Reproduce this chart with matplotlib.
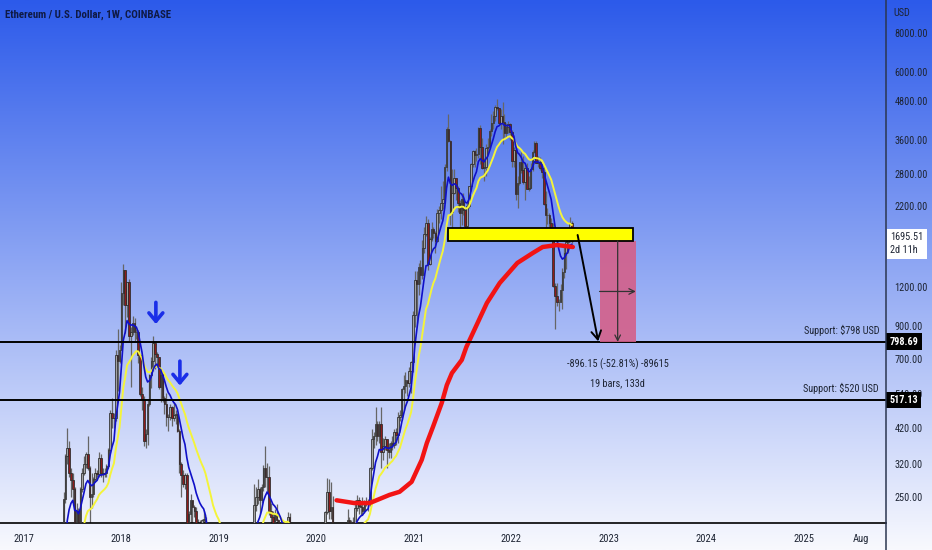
import numpy as np
import pandas as pd
import matplotlib
matplotlib.use("Agg")
import matplotlib.pyplot as plt
import matplotlib.dates as mdates
import matplotlib.transforms as mtrans
from matplotlib.lines import Line2D
from matplotlib.patches import Rectangle

plt.rcParams["font.family"] = ["Roboto Condensed", "Liberation Sans Narrow", "Liberation Sans", "DejaVu Sans"]

# weekly ETH/USD candles (Coinbase), first bar week of 2017-01-02
first_open = 8.2
close = [
    # 2017
    10.2, 9.8, 10.6, 10.7, 11.2, 11.4, 12.8, 13.2, 19.2, 28.5, 43, 43, 50,
    43, 48, 49, 79, 88, 88, 157, 180, 247, 340, 360, 300, 283,
    265, 155, 225, 200, 265, 300, 320, 345, 310, 250, 255, 285, 300,
    297, 335, 300, 297, 300, 315, 355, 470, 450, 450, 720, 690, 750,
    # 2018
    1150, 1360, 1050, 1245, 830, 860, 920, 860, 860, 720, 540, 520, 380,
    400, 500, 620, 690, 790, 730, 710, 570, 620, 525, 500, 455, 455,
    490, 450, 460, 465, 410, 320, 295, 275, 295, 195, 220, 245, 232,
    226, 195, 205, 205, 210, 212, 175, 115, 117, 92, 84, 130, 135, 155,
    # 2019
    118, 122, 116, 107, 120, 142, 137, 134, 134, 137, 135, 141, 165,
    168, 171, 158, 170, 200, 235, 250, 265, 245, 270, 310, 290, 290,
    225, 215, 205, 220, 210, 195, 190, 172, 180, 200, 215, 170, 180,
    190, 172, 180, 185, 185, 180, 150, 150, 148, 142, 127, 128, 143,
    # 2020
    146, 167, 168, 190, 223, 260, 225, 232, 200, 125, 130, 132, 145,
    158, 185, 197, 211, 187, 207, 206, 231, 245, 233, 232, 225, 240,
    240, 240, 310, 385, 395, 430, 395, 430, 350, 365, 385, 355, 350,
    375, 368, 405, 396, 455, 460, 560, 575, 600, 585, 640, 685, 975,
    # 2021
    1260, 1230, 1390, 1310, 1610, 1780, 1930, 1420, 1720, 1855, 1790, 1690, 2080,
    2140, 2240, 2310, 2950, 3900, 3580, 2100, 2420, 2710, 2510, 2250, 2080, 2320,
    2140, 1895, 2190, 2560, 3010, 3310, 3225, 3230, 3930, 3410, 2920, 2930, 3380,
    3420, 3850, 4080, 4290, 4610, 4570, 4090, 4290, 4120, 3790, 3960, 4050, 3830,
    # 2022
    3080, 3330, 2400, 2600, 3050, 2870, 2630, 2920, 2500, 2520, 2900, 3300, 3520,
    3030, 3060, 2920, 2830, 2230, 2060, 2050, 1940, 1810, 1210, 1125, 1070, 1070,
    1170, 1340, 1550, 1680, 1700, 1935, 1695.51,
]
high = [
    10.5, 10.8, 11.0, 11.2, 11.5, 11.9, 13.2, 13.8, 19.5, 30, 45, 45, 55,
    53, 50, 51, 80, 90, 93, 160, 200, 260, 345, 420, 380, 310,
    300, 270, 240, 230, 270, 310, 340, 350, 395, 315, 300, 290, 310,
    305, 350, 345, 310, 310, 320, 360, 480, 525, 470, 750, 880, 780,
    1250, 1420, 1360, 1250, 1270, 890, 970, 950, 880, 870, 730, 570, 530,
    415, 520, 625, 710, 830, 790, 740, 710, 630, 630, 530, 545, 465,
    500, 495, 510, 480, 470, 415, 325, 305, 300, 300, 225, 255, 245,
    235, 232, 212, 210, 212, 225, 215, 175, 125, 118, 95, 145, 158, 160,
    160, 132, 124, 116, 124, 147, 165, 140, 138, 140, 144, 145, 184,
    185, 180, 174, 174, 202, 275, 270, 285, 270, 275, 318, 365, 322,
    315, 240, 225, 228, 238, 212, 200, 194, 188, 202, 224, 222, 183,
    198, 196, 196, 191, 197, 190, 181, 156, 152, 150, 145, 135, 145,
    147, 175, 174, 191, 225, 288, 285, 280, 252, 201, 140, 143, 152,
    177, 190, 199, 228, 215, 210, 216, 245, 253, 251, 240, 250, 244,
    250, 247, 312, 415, 405, 490, 440, 440, 490, 389, 395, 386, 375,
    380, 395, 417, 420, 473, 480, 565, 622, 635, 595, 660, 690, 1000,
    1350, 1350, 1440, 1470, 1700, 1880, 2040, 2000, 1740, 1945, 1880, 1820, 2150,
    2200, 2550, 2650, 3000, 3950, 4380, 3600, 2900, 2900, 2700, 2550, 2290, 2380,
    2430, 2160, 2250, 2560, 3020, 3330, 3350, 3380, 3950, 4030, 3660, 3150, 3480,
    3650, 3910, 4380, 4460, 4670, 4870, 4580, 4550, 4780, 4380, 4100, 4140, 4090,
    3880, 3420, 3370, 2740, 3060, 3290, 3200, 2990, 3040, 2750, 3040, 3330, 3580,
    3560, 3190, 3170, 3030, 3000, 2460, 2160, 2080, 2010, 1930, 1240, 1240, 1100,
    1230, 1380, 1640, 1790, 1790, 2030, 1960,
]
low = [
    8.2, 9.5, 9.7, 10.3, 10.6, 10.9, 11.3, 12.8, 13.0, 18.5, 28, 36, 41,
    40, 42, 46, 49, 75, 84, 87, 145, 170, 240, 320, 290, 250,
    240, 133, 150, 190, 195, 260, 295, 310, 305, 195, 230, 250, 280,
    290, 290, 290, 280, 290, 290, 310, 350, 420, 420, 440, 550, 680,
    750, 1050, 850, 960, 800, 570, 840, 800, 815, 680, 530, 480, 365,
    360, 370, 495, 565, 640, 650, 660, 560, 510, 510, 465, 425, 410,
    445, 425, 440, 430, 405, 300, 250, 270, 265, 180, 168, 196, 205,
    215, 185, 192, 198, 188, 205, 170, 100, 100, 85, 82, 85, 120, 130,
    115, 116, 112, 102, 104, 117, 135, 129, 126, 130, 131, 131, 140,
    156, 162, 148, 151, 160, 195, 226, 238, 220, 240, 262, 270, 262,
    218, 190, 195, 202, 203, 181, 182, 165, 167, 174, 195, 155, 165,
    175, 167, 157, 177, 179, 176, 142, 140, 145, 140, 117, 124, 126,
    135, 143, 155, 162, 186, 220, 212, 212, 196, 90, 110, 123, 125,
    152, 151, 170, 188, 150, 181, 196, 197, 226, 220, 219, 218, 222,
    233, 226, 234, 305, 360, 370, 380, 375, 310, 330, 356, 310, 335,
    335, 355, 360, 370, 375, 440, 445, 480, 545, 530, 570, 545, 635,
    890, 920, 1130, 1225, 1275, 1550, 1760, 1360, 1410, 1690, 1725, 1545, 1685,
    1940, 2000, 2150, 2250, 2850, 3550, 1900, 1730, 2410, 2290, 2100, 1700, 1900,
    2050, 1860, 1720, 2160, 2450, 2950, 2950, 3080, 3150, 3000, 2900, 2650, 2740,
    3280, 3360, 3700, 3900, 4140, 4500, 4060, 3920, 3500, 3670, 3640, 3800, 3600,
    2930, 2950, 2300, 2160, 2580, 2820, 2590, 2300, 2500, 2450, 2510, 2850, 3260,
    3030, 2950, 2880, 2710, 2210, 1700, 1920, 1720, 1740, 1200, 880, 1040, 1000,
    1070, 1020, 1280, 1370, 1550, 1685, 1665,
]

# long moving average (red)
ma_long_dates = ["2020-03-17", "2020-05-22", "2020-07-19", "2020-10-01", "2020-11-08",
                 "2020-12-23", "2021-01-30", "2021-02-18", "2021-03-13", "2021-04-15",
                 "2021-05-04", "2021-05-23", "2021-06-29", "2021-07-16", "2021-10-01",
                 "2021-11-18", "2022-01-23", "2022-03-22", "2022-04-28", "2022-06-21",
                 "2022-08-19"]
ma_long = [244, 239, 239, 254, 260, 280, 330, 374, 422, 505, 577, 631, 696, 766,
           1065, 1236, 1436, 1547, 1618, 1642, 1618]

supports = [798.69, 517.13]
support_labels = ["Support: \\$798 USD", "Support: \\$520 USD"]
last_price = 1695.51
zone = ("2021-05-08", "2023-04-02", 1690, 1860)           # yellow box
measure = ("2022-11-27", "2023-04-12", 796.15, 1692.3)    # pink range
price_ticks = [250, 320, 420, 540, 700, 900, 1200, 2200, 2800, 3600, 4800, 6000, 8000]
year_ticks = ["2017-01-01", "2018-01-01", "2019-01-01", "2020-01-01", "2021-01-01",
              "2022-01-01", "2023-01-01", "2024-01-01", "2025-01-01", "2025-08-01"]
year_labels = ["2017", "2018", "2019", "2020", "2021", "2022", "2023", "2024", "2025", "Aug"]

W, H = 932, 550
TXT = "#1d2433"
fig = plt.figure(figsize=(W / 100, H / 100), dpi=100)

# gradient background
bg = fig.add_axes([0, 0, 1, 1], zorder=-5)
top_c = np.array([44, 90, 234]) / 255
bot_c = np.array([248, 249, 254]) / 255
t = np.linspace(0, 1, 256)[:, None]
grad = (top_c * (1 - t) + bot_c * t)[:, None, :]
bg.imshow(grad, aspect="auto", extent=[0, 1, 0, 1], origin="upper")
bg.set_axis_off()

ax_right = 886
ax_bottom = 523
ax = fig.add_axes([0, (H - ax_bottom) / H, ax_right / W, ax_bottom / H])
ax.set_facecolor("none")

dates = pd.date_range("2017-01-02", periods=len(close), freq="W-MON")
xd = mdates.date2num(dates.to_pydatetime())
c = np.array(close, dtype=float)
o = np.concatenate([[first_open], c[:-1]])
hi = np.array(high, dtype=float)
lo = np.array(low, dtype=float)
up = c >= o

ax.vlines(xd, lo, hi, color="#666666", lw=0.9, zorder=2)
ax.bar(xd[up], c[up] - o[up], bottom=o[up], width=5.8, color="#a3a3a3",
       edgecolor="#2a2a2a", linewidth=0.55, zorder=3)
ax.bar(xd[~up], o[~up] - c[~up], bottom=c[~up], width=5.8, color="#8e1c1c",
       edgecolor="#2a2a2a", linewidth=0.55, zorder=3)

ser = pd.Series(c, index=dates)
ema_fast = ser.ewm(span=9, adjust=False).mean()
ema_slow = ser.ewm(span=21, adjust=False).mean()
ax.plot(xd, ema_slow.values, color="#f4f43a", lw=1.4, zorder=4)
ax.plot(xd, ema_fast.values, color="#1010c8", lw=1.2, zorder=5)
ma_x = mdates.date2num(pd.to_datetime(ma_long_dates).to_pydatetime())
ax.plot(ma_x, ma_long, color="#f21414", lw=3.2, solid_capstyle="round", zorder=5)

# axis scaling: 97.5 px per year, 2017-01-01 at x=24px
px_per_day = 97.5 / 365.25
x_2017 = mdates.date2num(pd.Timestamp("2017-01-01"))
x0 = x_2017 - 24 / px_per_day
ax.set_xlim(x0, x0 + ax_right / px_per_day)
ax.set_yscale("log")
px_per_dec = 308.3
y_top = 10 ** (np.log10(8000) + 33 / px_per_dec)
ax.set_ylim(10 ** (np.log10(y_top) - ax_bottom / px_per_dec), y_top)

# support lines
for lvl, lab in zip(supports, support_labels):
    ax.axhline(lvl, color="black", lw=1.4, zorder=6)
    ax.annotate(lab, xy=(1, lvl), xycoords=("axes fraction", "data"),
                xytext=(-5, 4), textcoords="offset points", ha="right", va="bottom",
                fontsize=7.4, color=TXT)

# yellow zone
zx0, zx1 = mdates.date2num(pd.Timestamp(zone[0])), mdates.date2num(pd.Timestamp(zone[1]))
ax.add_patch(Rectangle((zx0, zone[2]), zx1 - zx0, zone[3] - zone[2], facecolor="#ffff00",
                       edgecolor="black", lw=1.3, zorder=7))

# price range measurement
mx0, mx1 = mdates.date2num(pd.Timestamp(measure[0])), mdates.date2num(pd.Timestamp(measure[1]))
ax.add_patch(Rectangle((mx0, measure[2]), mx1 - mx0, measure[3] - measure[2],
                       facecolor="#d4608a", edgecolor="none", alpha=0.9, zorder=6))
mxm = (mx0 + mx1) / 2
ax.annotate("", xy=(mxm, measure[2]), xytext=(mxm, measure[3]),
            arrowprops=dict(arrowstyle="->", color="#333333", lw=0.9, shrinkA=0, shrinkB=0),
            zorder=7)
y_mid = 10 ** ((np.log10(measure[2]) + np.log10(measure[3])) / 2)
ax.annotate("", xy=(mx1, y_mid), xytext=(mx0, y_mid),
            arrowprops=dict(arrowstyle="->", color="#333333", lw=0.9, shrinkA=0, shrinkB=0),
            zorder=7)
ax.annotate("-896.15 (-52.81%) -89615", xy=(mxm, measure[2]), xytext=(0, -16),
            textcoords="offset points", ha="center", va="center", fontsize=7.4, color=TXT)
ax.annotate("19 bars, 133d", xy=(mxm, measure[2]), xytext=(0, -30),
            textcoords="offset points", ha="center", va="center", fontsize=7.4, color=TXT)

# projection arrow
ax.annotate("", xy=(mdates.date2num(pd.Timestamp("2022-11-22")), 800),
            xytext=(mdates.date2num(pd.Timestamp("2022-09-06")), 1770),
            arrowprops=dict(arrowstyle="->,head_width=0.35,head_length=0.6", color="black",
                            lw=1.4, shrinkA=0, shrinkB=0), zorder=8)

# blue arrows on 2018 lower highs
for d, ytop, ybot in [("2018-05-10", 1070, 910), ("2018-08-08", 690, 575)]:
    xd_a = mdates.date2num(pd.Timestamp(d))
    ax.annotate("", xy=(xd_a, ybot), xytext=(xd_a, ytop),
                arrowprops=dict(arrowstyle="->,head_width=0.5,head_length=0.6",
                                color="#1a2ee8", lw=2.6, shrinkA=0, shrinkB=0), zorder=8)

# axes styling
for s in ["left", "top", "right"]:
    ax.spines[s].set_visible(False)
ax.spines["bottom"].set_color("black")
ax.spines["bottom"].set_linewidth(1.2)
ax.yaxis.tick_right()
ax.yaxis.set_minor_locator(matplotlib.ticker.NullLocator())
ax.set_yticks(price_ticks)
ax.set_yticklabels([f"{v:.2f}" for v in price_ticks])
ax.tick_params(axis="y", length=0, pad=6, labelsize=7.4, labelcolor=TXT)
ax.set_xticks(mdates.date2num(pd.to_datetime(year_ticks).to_pydatetime()))
ax.set_xticklabels(year_labels)
ax.tick_params(axis="x", length=0, pad=8, labelsize=7.6, labelcolor=TXT)

# right scale line across full height
fig.add_artist(Line2D([ax_right / W, ax_right / W], [0, 1], color="#2b3650", lw=1.1))

# price tags on the scale
blend = mtrans.blended_transform_factory(ax.transAxes, ax.transData)
for lvl in supports:
    ax.text(1.004, lvl, f"{lvl:.2f}", transform=blend, ha="left", va="center", fontsize=7.4,
            color="white", fontweight="bold", clip_on=False, zorder=10,
            bbox=dict(boxstyle="square,pad=0.3", fc="black", ec="none"))
ax.annotate(f"{last_price:.2f}\n2d 11h", xy=(1.0, last_price),
            xycoords=("axes fraction", "data"), xytext=(3, 6), textcoords="offset points",
            ha="left", va="top", fontsize=7.4, color=TXT, linespacing=1.35,
            annotation_clip=False, zorder=10,
            bbox=dict(boxstyle="square,pad=0.35", fc="white", ec="none"))

fig.text(893 / W, 1 - 13 / H, "USD", fontsize=7.4, color=TXT, va="center")
fig.text(5 / W, 1 - 15 / H, "Ethereum / U.S. Dollar, 1W, COINBASE", fontsize=7.8,
         fontweight="bold", color="#0f1a45", va="center")

fig.savefig("out.png", dpi=100)
